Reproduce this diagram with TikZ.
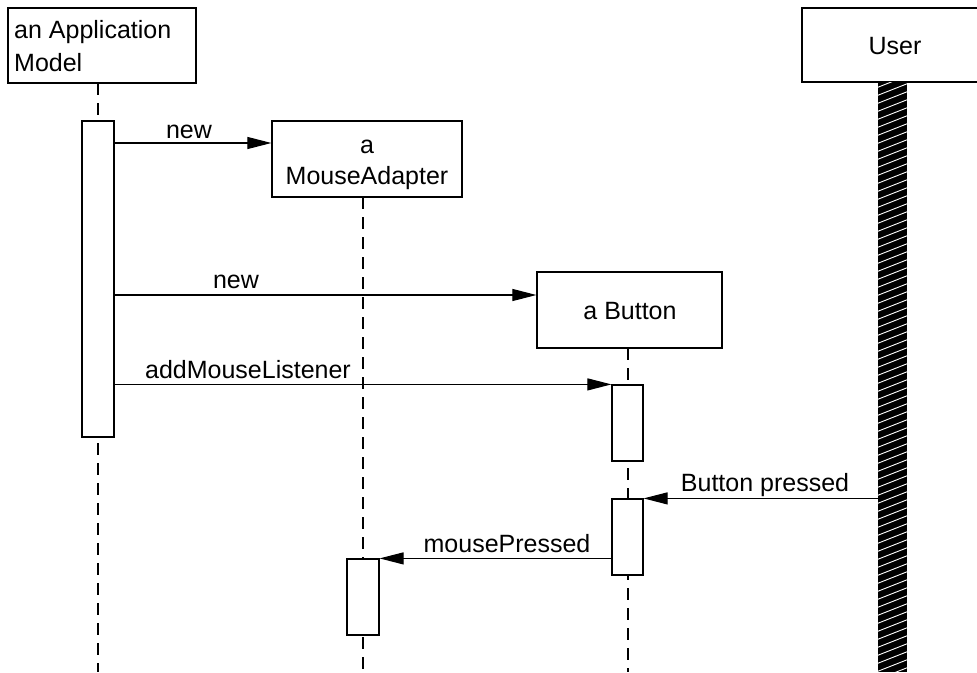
\documentclass[tikz,border=0pt]{standalone}
\usepackage{fontspec}
\setmainfont{Liberation Sans}
\usetikzlibrary{arrows.meta}
\begin{document}
\begin{tikzpicture}[x=1pt,y=-1pt,
  box/.style={draw, line width=1.2pt, fill=white, inner sep=0pt},
  lbl/.style={anchor=base, inner sep=0pt, font=\fontsize{25}{32}\selectfont},
  life/.style={line width=1.1pt, dash pattern=on 12pt off 8pt},
  msg/.style={line width=1.1pt, -{Triangle[length=24pt,width=12pt]}}
]
\useasboundingbox (0,0) rectangle (977,672);
% lifelines
\coordinate (appbot) at (98,672);
\coordinate (mabot) at (363,672);
\coordinate (btnbot) at (628,672);
\draw[life] (98,83) -- (appbot);
\draw[life] (363,197) -- (mabot);
\draw[life] (628,348) -- (btnbot);
% boxes
\node[box, minimum width=188pt, minimum height=75pt] (app) at (102,45.5) {};
\node[box, minimum width=190pt, minimum height=76pt] (ma) at (367,159) {};
\node[box, minimum width=185pt, minimum height=76pt] (btn) at (629.5,310) {};
\node[box, minimum width=186pt, minimum height=74pt] (user) at (895,45) {};
% box texts
\node[lbl, anchor=base west] (t1) at (14,38) {an Application};
\node[lbl, anchor=base west] (t2) at (14,71) {Model};
\node[lbl] (t3) at (367,153) {a};
\node[lbl] (t4) at (367,184) {MouseAdapter};
\node[lbl] (t5) at (630,319) {a Button};
\node[lbl] (t6) at (895,54) {User};
% user hatched bar
\begin{scope}
\clip (878,82) rectangle (907,672);
\fill[black] (878,82) rectangle (907,672);
\foreach \yy in {80,88,...,700} {
  \draw[white, line width=0.9pt] (876,\yy) -- (909,\yy-13);
}
\end{scope}
\node[inner sep=0pt, minimum width=29pt, minimum height=590pt] (ubar) at (892.5,377) {};
% activations
\node[box, minimum width=32pt, minimum height=316pt] (act1) at (98,279) {};
\node[box, minimum width=31pt, minimum height=76pt] (bact1) at (627.5,423) {};
\node[box, minimum width=31pt, minimum height=76pt] (bact2) at (627.5,537) {};
\node[box, minimum width=32pt, minimum height=76pt] (mact) at (363,597) {};
% message rows
\coordinate (m1) at (0,143);
\coordinate (m2) at (0,295);
\draw[msg] (act1.east |- m1) -- (ma.west |- m1);
\draw[msg] (act1.east |- m2) -- (btn.west |- m2);
\draw[msg] (act1.east |- bact1.north) -- (bact1.north west);
\draw[msg] (ubar.west |- bact2.north) -- (bact2.north east);
\draw[msg] (bact2.west |- mact.north) -- (mact.north east);
% labels
\node[lbl] (l1) at (189,138) {new};
\node[lbl] (l2) at (236,288) {new};
\node[lbl] (l3) at (248,378) {addMouseListener};
\node[lbl] (l4) at (765,491) {Button pressed};
\node[lbl] (l5) at (507,552) {mousePressed};
\end{tikzpicture}
\end{document}
